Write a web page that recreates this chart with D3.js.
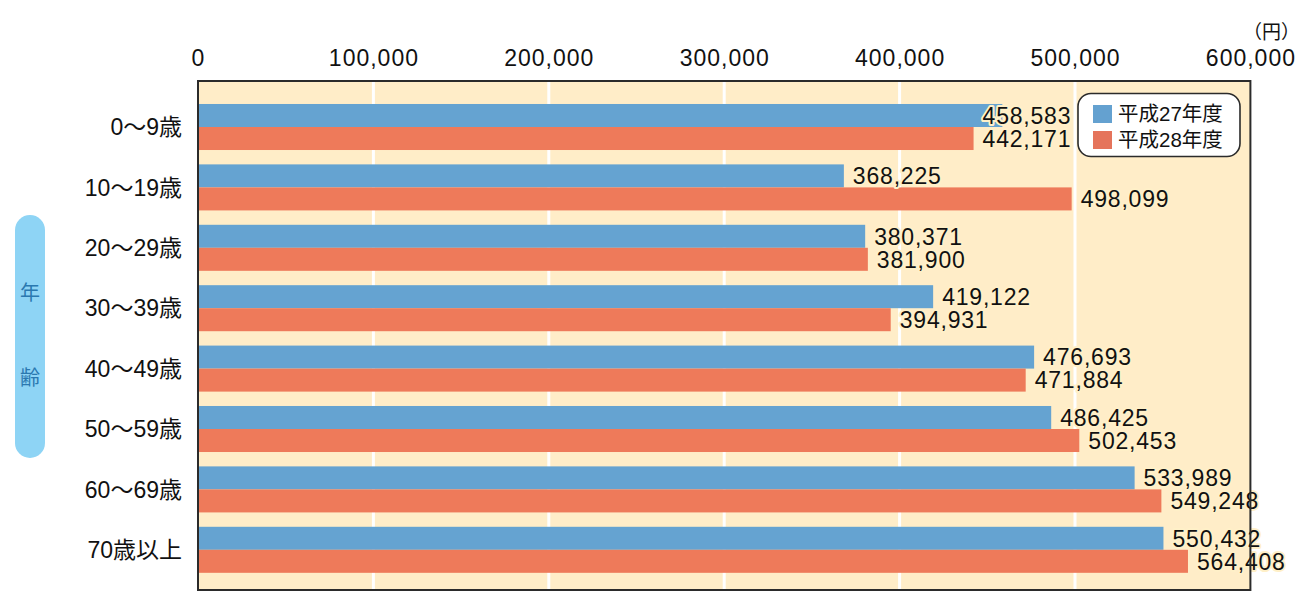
<!DOCTYPE html>
<html><head><meta charset="utf-8">
<script src="https://cdn.jsdelivr.net/npm/d3@7"></script>
<style>
html,body{margin:0;padding:0;background:#fff;}
svg{display:block;}
</style></head>
<body>
<svg id="chart" width="1311" height="596"></svg>
<script>
const categories = ["0〜9歳","10〜19歳","20〜29歳","30〜39歳","40〜49歳","50〜59歳","60〜69歳","70歳以上"];
const seriesNames = ["平成27年度","平成28年度"];
const valuesH27 = [458583,368225,380371,419122,476693,486425,533989,550432];
const valuesH28 = [442171,498099,381900,394931,471884,502453,549248,564408];
const tickValues = [0,100000,200000,300000,400000,500000,600000];
const unitLabel = "（円）";
const yTitle = ["年","齢"];

const colors = ["#65a3d1","#ee7a5a"];
const legendColors = ["#64a1d0","#e5745b"];
const font = "'Liberation Sans', Arial, 'Noto Sans CJK JP', sans-serif";

const svg = d3.select("#chart");
const L = 198, R = 1250.4, T = 81, B = 590;

const x = d3.scaleLinear().domain([0,600000]).range([L,R]);
const y = d3.scaleBand().domain(categories).range([96.8,580]).paddingInner(0.238).paddingOuter(0.119);
const ySub = d3.scaleBand().domain(seriesNames).range([0,y.bandwidth()]);

// background
svg.append("rect").attr("x",L).attr("y",T).attr("width",R-L).attr("height",B-T).attr("fill","#ffedc8");

// gridlines
svg.append("g").selectAll("line").data(tickValues.slice(1,-1)).join("line")
  .attr("x1",d=>x(d)).attr("x2",d=>x(d)).attr("y1",T).attr("y2",B)
  .attr("stroke","#fff").attr("stroke-width",3);

// bars
const rows = categories.map((c,i)=>({c,i,vals:[valuesH27[i],valuesH28[i]]}));
const g = svg.append("g").selectAll("g").data(rows).join("g")
  .attr("transform",d=>`translate(0,${y(d.c)})`);
g.selectAll("rect").data(d=>d.vals.map((v,k)=>({v,k,s:seriesNames[k]}))).join("rect")
  .attr("x",x(0)).attr("y",d=>ySub(d.s)).attr("width",d=>x(d.v)-x(0)).attr("height",ySub.bandwidth())
  .attr("fill",d=>colors[d.k]);

// value labels
g.each(function(row){
  const gg = d3.select(this);
  row.vals.forEach((v,k)=>{
    const base = row.i===0 ? d3.min(row.vals) : v;
    gg.append("text")
      .attr("x",x(base)+9).attr("y",ySub(seriesNames[k])+ySub.bandwidth()/2)
      .attr("dy","0.36em")
      .attr("font-family",font).attr("font-size",23).attr("letter-spacing","0.8px")
      .attr("fill","#111")
      .attr("stroke","#fff0c8").attr("stroke-width",4).attr("stroke-linejoin","round")
      .attr("paint-order","stroke")
      .text(d3.format(",")(v));
  });
});

// border
svg.append("rect").attr("x",L).attr("y",T).attr("width",R-L).attr("height",B-T)
  .attr("fill","none").attr("stroke","#2b2b2b").attr("stroke-width",2);

// top axis
const axis = d3.axisTop(x).tickValues(tickValues).tickFormat(d3.format(",")).tickSize(0).tickPadding(0);
const ax = svg.append("g").attr("transform",`translate(0,66)`).call(axis);
ax.select(".domain").remove();
ax.selectAll("text").attr("font-family",font).attr("font-size",23).attr("letter-spacing","1px")
  .attr("fill","#111").attr("dy",0);

svg.append("text").attr("x",1300).attr("y",39).attr("text-anchor","end")
  .attr("font-family",font).attr("font-size",19).attr("fill","#111").text(unitLabel);

// category labels
const yAxis = d3.axisLeft(y).tickSize(0).tickPadding(0);
const ay = svg.append("g").attr("transform",`translate(182,0)`).call(yAxis);
ay.select(".domain").remove();
ay.selectAll("text").attr("font-family",font).attr("font-size",23).attr("fill","#111")
  .attr("dy","0.36em");

// y title pill
svg.append("rect").attr("x",15).attr("y",215).attr("width",30).attr("height",243).attr("rx",15)
  .attr("fill","#8ed4f5");
svg.selectAll(".yt").data(yTitle).join("text").attr("class","yt")
  .attr("x",30).attr("y",(d,i)=>[293,378][i]).attr("dy","0.36em").attr("text-anchor","middle")
  .attr("font-family","'Noto Sans CJK JP', sans-serif").attr("font-size",20).attr("fill","#2a78b0")
  .text(d=>d);

// legend
const lg = svg.append("g");
lg.append("rect").attr("x",1078).attr("y",93.5).attr("width",162).attr("height",63).attr("rx",13)
  .attr("fill","#fff").attr("stroke","#2b2b2b").attr("stroke-width",1.6);
seriesNames.forEach((s,k)=>{
  lg.append("rect").attr("x",1093).attr("y",105+k*26).attr("width",19).attr("height",18).attr("fill",legendColors[k]);
  lg.append("text").attr("x",1118).attr("y",114+k*26).attr("dy","0.36em")
    .attr("font-family",font).attr("font-size",20.5).attr("fill","#111").text(s);
});
</script>
</body></html>
